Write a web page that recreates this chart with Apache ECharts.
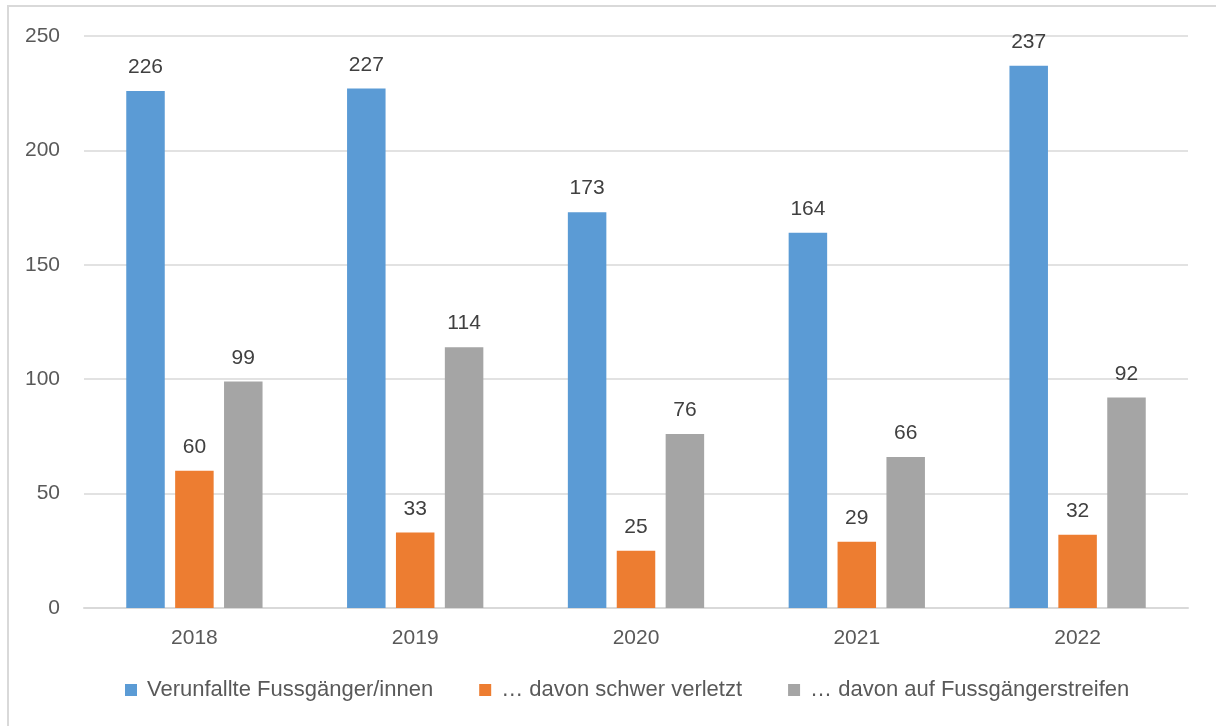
<!DOCTYPE html>
<html>
<head>
<meta charset="utf-8">
<script src="https://cdn.jsdelivr.net/npm/echarts@6/dist/echarts.min.js"></script>
<style>
  html, body { margin: 0; padding: 0; background: #fff; }
  #chart { width: 1216px; height: 726px; }
</style>
</head>
<body>
<div id="chart"></div>
<script>
// Pedestrian accidents per year
const years = ['2018', '2019', '2020', '2021', '2022'];
const seriesNames = ['Verunfallte Fussgänger/innen', '… davon schwer verletzt', '… davon auf Fussgängerstreifen'];
const injuredTotal = [226, 227, 173, 164, 237];
const severelyInjured = [60, 33, 25, 29, 32];
const onCrossings = [99, 114, 76, 66, 92];
const seriesColors = ['#5B9BD5', '#ED7D31', '#A5A5A5'];

const font = '"Liberation Sans", Arial, sans-serif';
const values = [injuredTotal, severelyInjured, onCrossings];

const chart = echarts.init(document.getElementById('chart'));
chart.setOption({
  animation: false,
  textStyle: { fontFamily: font },
  graphic: [{
    type: 'rect',
    shape: { x: 8, y: 6, width: 1230, height: 740 },
    style: { fill: 'none', stroke: '#D9D9D9', lineWidth: 2 },
    silent: true
  }],
  grid: { left: 84, right: 28, top: 36, bottom: 118 },
  legend: {
    bottom: 20,
    left: 120,
    itemWidth: 12,
    itemHeight: 12,
    itemGap: 46,
    icon: 'rect',
    textStyle: { fontSize: 22, color: '#595959', fontFamily: font, padding: [0, 0, 0, 5] },
    data: seriesNames
  },
  xAxis: {
    type: 'category',
    data: years,
    axisLine: { lineStyle: { color: '#D9D9D9', width: 2 } },
    axisTick: { show: false },
    axisLabel: { fontSize: 21, color: '#595959', margin: 20 }
  },
  yAxis: {
    type: 'value',
    min: 0,
    max: 250,
    interval: 50,
    axisLine: { show: false },
    axisTick: { show: false },
    splitLine: { lineStyle: { color: '#D9D9D9', width: 1.5 } },
    axisLabel: { fontSize: 21, color: '#595959', margin: 24 }
  },
  series: seriesNames.map((name, i) => ({
    name: name,
    type: 'bar',
    data: values[i],
    barWidth: 38.5,
    barGap: '27%',
    itemStyle: { color: seriesColors[i] },
    label: {
      show: true,
      position: 'top',
      distance: 13,
      fontSize: 21,
      color: '#404040',
      fontFamily: font
    }
  }))
});
</script>
</body>
</html>
